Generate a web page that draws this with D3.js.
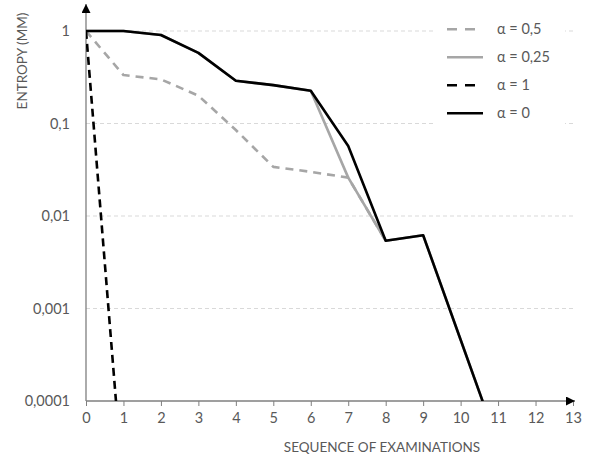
<!DOCTYPE html>
<html>
<head>
<meta charset="utf-8">
<script src="https://cdn.jsdelivr.net/npm/d3@7"></script>
<style>
  html, body { margin: 0; padding: 0; background: #fff; }
  svg { display: block; }
  text { font-family: Lato, "Open Sans", sans-serif; fill: #595959; }
</style>
</head>
<body>
<svg id="canvas" width="595" height="457"></svg>
<script>
"use strict";

// sequence of examinations
var examinations = [0, 1, 2, 3, 4, 5, 6, 7, 8, 9, 10, 11];

// entropy per alpha value (null = no point)
var alpha05 = [1, 0.334, 0.30, 0.20, 0.085, 0.034, 0.030, 0.026, 0.0054];
var alpha025 = [1, 1, 0.905, 0.58, 0.29, 0.26, 0.226, 0.026, 0.0054, 0.0062, 0.00046, 0.000034];
var alpha1 = [1, 0.00001];
var alpha0 = [1, 1, 0.905, 0.58, 0.29, 0.26, 0.226, 0.057, 0.0054, 0.0062, 0.00046, 0.000034];

var xTicks = [0, 1, 2, 3, 4, 5, 6, 7, 8, 9, 10, 11, 12, 13];
var yTicks = [0.0001, 0.001, 0.01, 0.1, 1];
var yTickLabels = ["0,0001", "0,001", "0,01", "0,1", "1"];

var seriesNames = ["\u03b1 = 0,5", "\u03b1 = 0,25", "\u03b1 = 1", "\u03b1 = 0"];
var seriesData = [alpha05, alpha025, alpha1, alpha0];
var seriesColors = ["#a6a6a6", "#a6a6a6", "#000000", "#000000"];
var seriesDash = ["8,6", null, "8,5", null];

var svg = d3.select("#canvas");

var x = d3.scaleLinear().domain([0, 13]).range([86, 573]);
var y = d3.scaleLog().domain([0.0001, 1]).range([401, 31]);

var defs = svg.append("defs");
defs.append("clipPath").attr("id", "plotClip")
    .append("rect")
    .attr("x", x(0)).attr("y", 0)
    .attr("width", x(13) - x(0)).attr("height", y(0.0001));

// gridlines
svg.append("g")
    .selectAll("line")
    .data(yTicks.slice(1))
    .enter().append("line")
    .attr("x1", x(0)).attr("x2", x(13))
    .attr("y1", function(d) { return y(d); })
    .attr("y2", function(d) { return y(d); })
    .attr("stroke", "#d9d9d9")
    .attr("stroke-width", 1)
    .attr("stroke-dasharray", "4,3");

// y tick labels
svg.append("g")
    .selectAll("text")
    .data(yTicks)
    .enter().append("text")
    .attr("x", 70)
    .attr("y", function(d) { return y(d) + 5; })
    .attr("text-anchor", "end")
    .attr("font-size", "14.5px")
    .text(function(d, i) { return yTickLabels[i]; });

// x axis
var xAxis = d3.axisBottom(x)
    .tickValues(xTicks)
    .tickSize(5)
    .tickPadding(7)
    .tickFormat(d3.format("d"));
var gx = svg.append("g")
    .attr("transform", "translate(0," + y(0.0001) + ")")
    .call(xAxis);
gx.select(".domain").remove();
gx.selectAll(".tick line").attr("stroke", "#7f7f7f");
gx.selectAll(".tick text")
    .attr("fill", "#595959")
    .attr("font-size", "14.5px")
    .attr("font-family", "Lato, 'Open Sans', sans-serif");

// axis lines with arrows
defs.append("marker")
    .attr("id", "arrow")
    .attr("viewBox", "0 0 10 10")
    .attr("refX", 10).attr("refY", 5)
    .attr("markerWidth", 10).attr("markerHeight", 9)
    .attr("markerUnits", "userSpaceOnUse")
    .attr("orient", "auto")
    .append("path")
    .attr("d", "M0,0 L10,5 L0,10 Z")
    .attr("fill", "#000");

svg.append("line")
    .attr("x1", x(0)).attr("x2", x(13) + 2)
    .attr("y1", y(0.0001)).attr("y2", y(0.0001))
    .attr("stroke", "#7f7f7f").attr("stroke-width", 1.3)
    .attr("marker-end", "url(#arrow)");
svg.append("line")
    .attr("x1", x(0)).attr("x2", x(0))
    .attr("y1", y(0.0001)).attr("y2", 4)
    .attr("stroke", "#7f7f7f").attr("stroke-width", 1.3)
    .attr("marker-end", "url(#arrow)");

// series lines
var line = d3.line()
    .defined(function(d) { return d != null; })
    .x(function(d, i) { return x(examinations[i]); })
    .y(function(d) { return y(d); });

svg.append("g")
    .attr("clip-path", "url(#plotClip)")
    .selectAll("path")
    .data(seriesData)
    .enter().append("path")
    .attr("d", line)
    .attr("fill", "none")
    .attr("stroke", function(d, i) { return seriesColors[i]; })
    .attr("stroke-width", 2.6)
    .attr("stroke-linejoin", "round")
    .attr("stroke-dasharray", function(d, i) { return seriesDash[i]; });

// axis titles
svg.append("text")
    .attr("x", 382).attr("y", 452)
    .attr("text-anchor", "middle")
    .attr("font-size", "13.5px")
    .text("SEQUENCE OF EXAMINATIONS");
svg.append("text")
    .attr("transform", "translate(27,61) rotate(-90)")
    .attr("text-anchor", "middle")
    .attr("font-size", "13.5px")
    .text("ENTROPY (MM)");

// legend
var legend = svg.append("g");
legend.append("rect")
    .attr("x", 433).attr("y", 12)
    .attr("width", 132).attr("height", 118)
    .attr("fill", "#fff");
var items = legend.selectAll("g.item")
    .data(seriesNames)
    .enter().append("g")
    .attr("class", "item")
    .attr("transform", function(d, i) { return "translate(0," + (29.3 + i * 28) + ")"; });
items.append("line")
    .attr("x1", 447).attr("x2", 483)
    .attr("y1", 0).attr("y2", 0)
    .attr("stroke", function(d, i) { return seriesColors[i]; })
    .attr("stroke-width", 2.6)
    .attr("stroke-dasharray", function(d, i) { return seriesDash[i] ? "10,8" : null; });
items.append("text")
    .attr("x", 497).attr("y", 5)
    .attr("font-size", "14.5px")
    .text(function(d) { return d; });
</script>
</body>
</html>
